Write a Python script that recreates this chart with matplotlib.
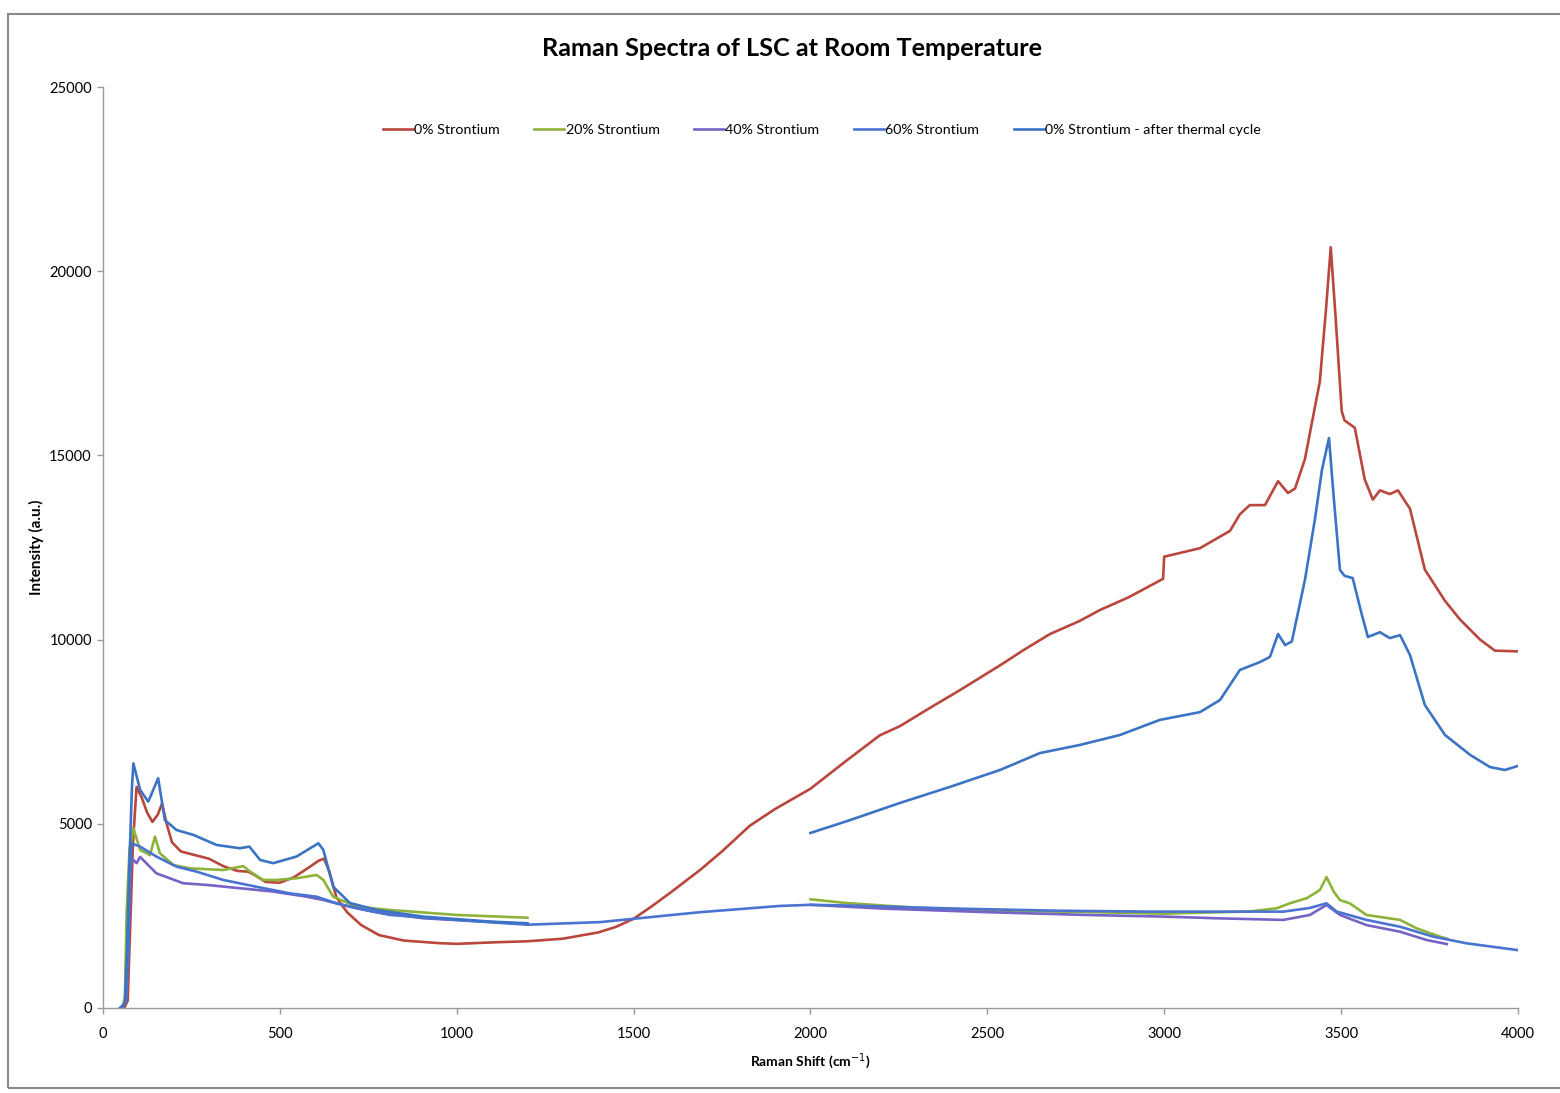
import numpy as np
import matplotlib
matplotlib.use("Agg")
import matplotlib.pyplot as plt
from matplotlib.patches import Rectangle

plt.rcParams['font.family'] = ['Lato', 'DejaVu Sans']

nan = np.nan

# 0% Strontium (red), measured over the whole range
x_sr0 = [50, 60, 70, 78, 85, 95, 110, 125, 140, 155, 167, 180, 195, 220, 260, 300, 340, 380,
         410, 430, 460, 500, 540, 580, 610, 625, 640, 660, 690, 730, 780, 850, 950, 1000,
         1100, 1200, 1300, 1400, 1450, 1500, 1550, 1600, 1688, 1750, 1829, 1900, 2000, 2100,
         2196, 2253, 2330, 2423, 2536, 2600, 2677, 2760, 2818, 2900, 2997, 3000, 3101, 3186,
         3214, 3242, 3285, 3322, 3350, 3370, 3398, 3418, 3440, 3457, 3471, 3485, 3502, 3510,
         3539, 3567, 3590, 3610, 3638, 3661, 3695, 3737, 3794, 3836, 3893, 3935, 4000]
y_sr0 = [0, 0, 200, 2500, 4500, 6000, 5700, 5300, 5050, 5250, 5550, 5000, 4500, 4250, 4150,
         4050, 3850, 3720, 3700, 3600, 3420, 3400, 3550, 3800, 4000, 4050, 3700, 3000, 2600,
         2250, 1980, 1830, 1760, 1740, 1780, 1810, 1880, 2050, 2200, 2420, 2750, 3100, 3745,
         4250, 4950, 5400, 5950, 6700, 7400, 7650, 8100, 8630, 9300, 9700, 10150, 10500,
         10800, 11150, 11650, 12250, 12480, 12950, 13400, 13650, 13650, 14300, 13980, 14100,
         14900, 15900, 17000, 18900, 20650, 18700, 16200, 15950, 15750, 14350, 13800, 14050,
         13950, 14050, 13550, 11900, 11050, 10550, 10000, 9700, 9680]

# 20% Strontium (green), two measured windows
x_sr20 = [55, 62, 67, 75, 86, 105, 133, 147, 161, 199, 246, 340, 397, 416, 453, 491, 547, 604,
          623, 651, 717, 811, 1000, 1200, nan,
          2000, 2100, 2300, 2500, 2800, 3000, 3242, 3318, 3355, 3403, 3440, 3459, 3480, 3497,
          3525, 3572, 3667, 3714, 3780, 3800]
y_sr20 = [0, 300, 2600, 4300, 4880, 4290, 4150, 4650, 4200, 3880, 3790, 3745, 3850, 3700,
          3475, 3475, 3520, 3610, 3475, 3020, 2750, 2660, 2525, 2450, nan,
          2950, 2850, 2720, 2650, 2600, 2560, 2620, 2705, 2840, 2980, 3200, 3550, 3150, 2930,
          2840, 2525, 2390, 2160, 1935, 1880]

# 40% Strontium (purple), two measured windows
x_sr40 = [55, 65, 72, 76, 81, 95, 105, 151, 227, 293, 387, 481, 576, 623, 679, 764, 905,
          1200, nan,
          2000, 2200, 2500, 2800, 3000, 3148, 3337, 3412, 3459, 3497, 3572, 3667, 3742, 3799]
y_sr40 = [0, 200, 1800, 3500, 4065, 3930, 4100, 3655, 3385, 3340, 3250, 3160, 3020, 2930,
          2795, 2615, 2435, 2280, nan,
          2800, 2700, 2600, 2520, 2480, 2435, 2390, 2525, 2795, 2525, 2250, 2070, 1845, 1735]

# 60% Strontium (blue), continuous
x_sr60 = [55, 65, 72, 77, 81, 105, 151, 208, 265, 340, 434, 529, 604, 660, 717, 811, 1000,
          1200, 1405, 1688, 1914, 2000, 2112, 2400, 2700, 2960, 3337, 3412, 3459, 3488, 3572,
          3667, 3761, 3855, 4000]
y_sr60 = [0, 200, 1500, 3800, 4470, 4380, 4110, 3835, 3700, 3475, 3290, 3110, 3020, 2840,
          2705, 2525, 2390, 2260, 2330, 2600, 2770, 2800, 2780, 2700, 2640, 2615, 2615, 2715,
          2840, 2615, 2390, 2205, 1935, 1755, 1570]

# 0% Strontium after thermal cycle (blue), two measured windows
x_tc = [48, 62, 68, 75, 82, 86, 105, 128, 156, 175, 208, 255, 321, 387, 414, 444, 481, 547,
        609, 623, 651, 698, 774, 905, 1094, 1200, nan,
        2000, 2112, 2253, 2394, 2536, 2649, 2762, 2875, 2988, 3101, 3158, 3214, 3271, 3299,
        3322, 3342, 3361, 3398, 3426, 3446, 3466, 3480, 3497, 3510, 3533, 3559, 3576, 3610,
        3638, 3667, 3695, 3737, 3794, 3865, 3921, 3963, 4000]
y_tc = [0, 130, 1500, 4000, 6000, 6640, 5920, 5600, 6235, 5100, 4830, 4700, 4425, 4335,
        4380, 4020, 3930, 4110, 4470, 4290, 3290, 2850, 2660, 2480, 2345, 2300, nan,
        4750, 5100, 5565, 6000, 6460, 6920, 7140, 7410, 7820, 8030, 8360, 9175, 9390, 9530,
        10150, 9850, 9950, 11620, 13250, 14600, 15470, 13790, 11890, 11730, 11670, 10670,
        10070, 10200, 10040, 10120, 9580, 8225, 7410, 6870, 6540, 6460, 6570]

series = [
    ("0% Strontium", x_sr0, y_sr0, "#B9473D"),
    ("20% Strontium", x_sr20, y_sr20, "#8DB33A"),
    ("40% Strontium", x_sr40, y_sr40, "#7663C6"),
    ("60% Strontium", x_sr60, y_sr60, "#4A74D0"),
    ("0% Strontium - after thermal cycle", x_tc, y_tc, "#3B74C4"),
]

fig = plt.figure(figsize=(15.6, 10.93), dpi=100)
ax = fig.add_axes([0.066, 0.0778, 0.907, 0.8426])

for label, xs, ys, col in series:
    ax.plot(xs, ys, color=col, lw=1.9, label=label)

ax.set_xlim(0, 4000)
ax.set_ylim(0, 25000)
ax.set_xticks(np.arange(0, 4001, 500))
ax.set_yticks(np.arange(0, 25001, 5000))
ax.tick_params(axis='both', labelsize=10.5, color='#999999', length=4, width=1)
ax.tick_params(axis='x', pad=10)
ax.tick_params(axis='y', pad=4)
for s in ['top', 'right']:
    ax.spines[s].set_visible(False)
for s in ['left', 'bottom']:
    ax.spines[s].set_color('#999999')
    ax.spines[s].set_linewidth(1)

ax.set_xlabel("Raman Shift (cm$^{-1}$)", fontsize=10, fontweight='bold', labelpad=7)
ax.set_ylabel("Intensity (a.u.)", fontsize=11, fontweight='bold', labelpad=4)

fig.text(0.508, 0.956, "Raman Spectra of LSC at Room Temperature",
         ha='center', va='center', fontsize=18.2, fontweight='bold')

ax.legend(loc='center', bbox_to_anchor=(0.508, 0.953), ncol=5, frameon=False,
          fontsize=10.3, handlelength=2.1, handletextpad=0.1, columnspacing=2.4)

# scanned chart border
fig.patches.append(Rectangle((8 / 1560, 5 / 1093), 1.0, 1074 / 1093,
                             transform=fig.transFigure, fill=False,
                             edgecolor='#8a8a8a', lw=1.5))

fig.savefig("out.png", dpi=100)
